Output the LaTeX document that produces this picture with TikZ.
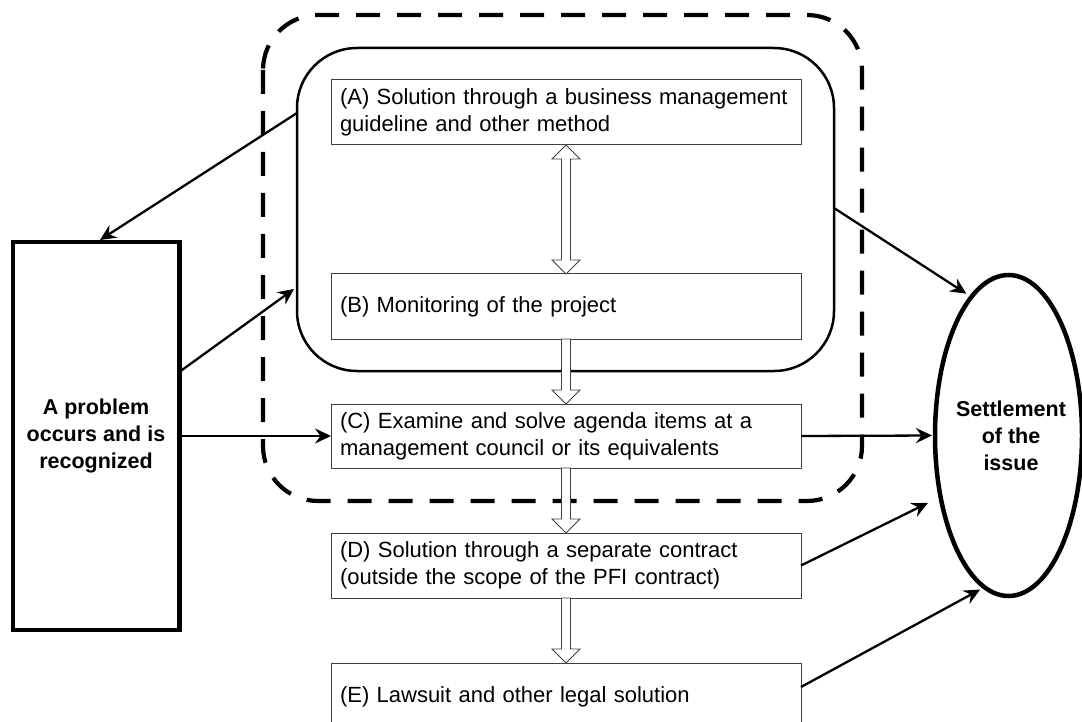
\documentclass[tikz,border=0pt]{standalone}
\usepackage{fontspec}
\setmainfont{Liberation Sans}
\usetikzlibrary{arrows.meta,calc,shapes.geometric}
\newcommand\hollowdown[2]{%
  \draw[hollow] ($(#1.south)+(-4.5,0)$) -- ($(#2.north)+(-4.5,-14)$) -- ($(#2.north)+(-14,-14)$) -- (#2.north)
    -- ($(#2.north)+(14,-14)$) -- ($(#2.north)+(4.5,-14)$) -- ($(#1.south)+(4.5,0)$) -- cycle;}
\newcommand\hollowboth[2]{%
  \draw[hollow] (#1.south) -- ($(#1.south)+(14,14)$) -- ($(#1.south)+(4.5,14)$) -- ($(#2.north)+(4.5,-14)$)
    -- ($(#2.north)+(14,-14)$) -- (#2.north) -- ($(#2.north)+(-14,-14)$) -- ($(#2.north)+(-4.5,-14)$)
    -- ($(#1.south)+(-4.5,14)$) -- ($(#1.south)+(-14,14)$) -- cycle;}
\begin{document}
\begin{tikzpicture}[x=1pt,y=-1pt,
  box/.style={draw=black!75, line width=1pt, rectangle, minimum width=470pt, inner xsep=9pt, inner ysep=2pt,
    text width=452pt, align=left, outer sep=0pt, font=\fontsize{22}{27}\selectfont, fill=white},
  conn/.style={line width=2.3pt, -{Stealth[length=16pt,width=15pt,inset=5.5pt]}},
  hollow/.style={draw=black!75, line width=0.9pt, fill=white, line join=miter},
  boldtxt/.style={font=\fontsize{21.5}{27}\selectfont\bfseries, align=center},
  dashbox/.style={line width=4.2pt, dash pattern=on 24pt off 17pt, rounded corners=55pt}
]
\useasboundingbox (0,0) rectangle (1082,722);
% dashed enclosure
\draw[dashbox] (263,15) rectangle (862,501);
% solid rounded group
\node[draw, line width=2.5pt, rounded corners=60pt, minimum width=537pt, minimum height=323pt,
  outer sep=0pt, inner sep=0pt] (R) at (565.5,209.5) {};
% step boxes
\node[box, minimum height=65pt] (A) at (566,112.5) {(A) Solution through a business management\\guideline and other method};
\node[box, minimum height=65pt] (B) at (566,306.5) {(B) Monitoring of the project};
\node[box, minimum height=64pt] (C) at (566,436) {(C) Examine and solve agenda items at a\\management council or its equivalents};
\node[box, minimum height=65pt] (D) at (566,565.5) {(D) Solution through a separate contract\\(outside the scope of the PFI contract)};
\node[box, minimum height=68pt] (E) at (566,697) {(E) Lawsuit and other legal solution};
% left and right terminals
\node[draw, line width=4.5pt, minimum width=166.5pt, minimum height=388pt, inner sep=0pt, outer sep=0pt, boldtxt]
  (P) at (96,436) {A problem\\occurs and is\\recognized};
\node[draw, ellipse, line width=4.5pt, minimum width=147pt, minimum height=321pt, inner sep=0pt, outer sep=0pt]
  (S) at (1008.5,435.5) {};
\node[boldtxt] (St) at ($(S.center)+(2.5,0)$) {Settlement\\of the\\issue};
% hollow arrows
\hollowboth{A}{B}
\hollowdown{B}{C}
\hollowdown{C}{D}
\hollowdown{D}{E}
% connectors
\draw[conn] ($(R.west)+(0,-96.5)$) -- ($(P.north)+(4,-2)$);
\draw[conn] ($(P.east)+(0,-64)$) -- ($(R.west)+(-3,79.5)$);
\draw[conn] (P.east |- C.west) -- (C.west);
\draw[conn, shorten >=6pt] ($(R.east)+(0,-1.5)$) -- (S.105);
\draw[conn, shorten >=3pt] (C.east) -- (S.west);
\draw[conn, shorten >=14pt] (D.east) -- (S.222);
\draw[conn, shorten >=5pt] ($(E.east)+(0,-10)$) -- (S.261);
\end{tikzpicture}
\end{document}
